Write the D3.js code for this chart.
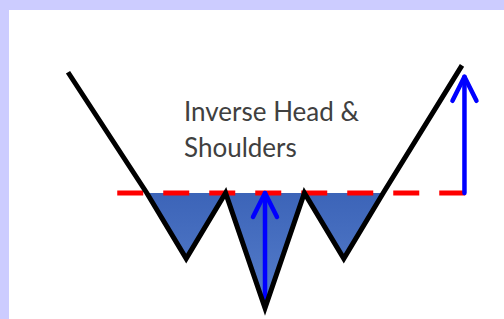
<!DOCTYPE html>
<html>
<head>
<meta charset="utf-8">
<script src="https://cdn.jsdelivr.net/npm/d3@7"></script>
<style>
  html, body { margin: 0; padding: 0; background: #ccccff; }
  #canvas { width: 504px; height: 319px; }
</style>
</head>
<body>
<div id="canvas"></div>
<script>
"use strict"

/* pattern data: time index and price, neckline at 100 */
let times = [0, 16, 24, 32, 40, 48, 56, 64, 80];
let prices = [205, 100, 43, 100, 0, 100, 43, 100, 211];
let neckline = 100;
let necklineSpan = [10, 81];
let headArrow = { t: 40, from: 3, to: 100 };
let targetArrow = { t: 80.5, from: 100, to: 201 };
let labelLines = ["Inverse Head &", "Shoulders"];

let drawing = d3.select("#canvas")
    .append("svg")
    .attr("width", 504)
    .attr("height", 319);

/* white panel inside the lavender frame */
let panel = drawing.append("rect")
    .attr("x", 9).attr("y", 10)
    .attr("width", 495).attr("height", 309)
    .attr("fill", "white");

let x = d3.scaleLinear().domain([0, 80]).range([68, 462]);
let y = d3.scaleLinear().domain([0, 100]).range([308, 193]);

let defs = drawing.append("defs");
let grad = defs.append("linearGradient")
    .attr("id", "blueFill")
    .attr("x1", 0).attr("y1", 0).attr("x2", 0).attr("y2", 1);
grad.append("stop").attr("offset", "0%").attr("stop-color", "#3c64b8");
grad.append("stop").attr("offset", "100%").attr("stop-color", "#567ecb");

let pts = times.map((t, i) => [t, prices[i]]);

/* filled troughs below the neckline */
let lineGen = d3.line().x(d => x(d[0])).y(d => y(d[1]));
let troughs = drawing.append("path")
    .attr("d", lineGen(pts.slice(1, 8)) + "Z")
    .attr("fill", "url(#blueFill)");

/* neckline */
let neck = drawing.append("line")
    .attr("x1", x(necklineSpan[0])).attr("y1", y(neckline))
    .attr("x2", x(necklineSpan[1])).attr("y2", y(neckline))
    .attr("stroke", "#ff0000")
    .attr("stroke-width", 5)
    .attr("stroke-dasharray", "26,20");

/* arrows */
function arrow(a) {
  let g = drawing.append("g")
      .attr("stroke", "#0000ff")
      .attr("stroke-width", 4.5)
      .attr("stroke-linecap", "round")
      .attr("stroke-linejoin", "round")
      .attr("fill", "none");
  g.append("line")
      .attr("x1", x(a.t)).attr("y1", y(a.from))
      .attr("x2", x(a.t)).attr("y2", y(a.to));
  g.append("path")
      .attr("d", "M" + (x(a.t) - 12) + "," + (y(a.to) + 24) +
                 "L" + x(a.t) + "," + y(a.to) +
                 "L" + (x(a.t) + 12) + "," + (y(a.to) + 24));
}
arrow(headArrow);
arrow(targetArrow);

/* price line */
let priceLine = drawing.append("path")
    .attr("d", lineGen(pts))
    .attr("fill", "none")
    .attr("stroke", "black")
    .attr("stroke-width", 5)
    .attr("stroke-linejoin", "miter");

/* label */
let label = drawing.append("text")
    .attr("x", 184)
    .attr("y", 121)
    .attr("font-family", "Lato, 'Open Sans', sans-serif")
    .attr("font-size", 26)
    .attr("fill", "#404040");
label.selectAll("tspan")
    .data(labelLines)
    .enter().append("tspan")
    .attr("x", 184)
    .attr("dy", (d, i) => i === 0 ? 0 : 36)
    .text(d => d);
</script>
</body>
</html>
